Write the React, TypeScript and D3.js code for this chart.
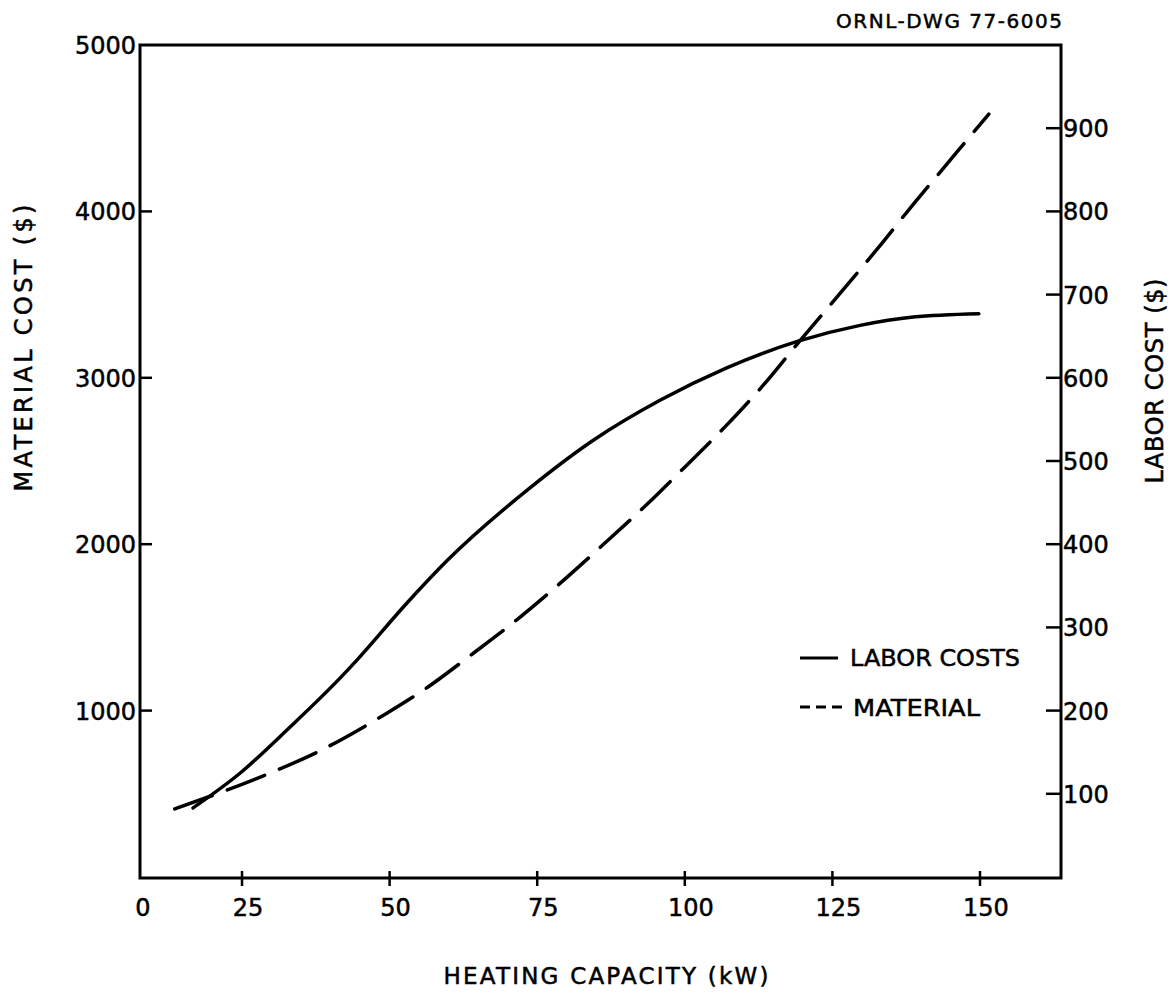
import React from "react";
import * as d3 from "d3";

const W = 1168;
const H = 1001;

// Heating capacity (kW) vs material cost ($, left axis)
const materialX = [13.6, 30.2, 37.9, 49.6, 56.5, 64, 71.7, 79.2, 86.1, 93.6, 99.9, 106.8, 113.4, 119.2, 125.4, 132.5, 139, 145.4, 151.5];
const materialY = [409, 631, 753, 986, 1142, 1340, 1550, 1775, 1995, 2240, 2460, 2705, 2960, 3210, 3470, 3770, 4056, 4327, 4585];

// Heating capacity (kW) vs labor cost ($, right axis)
const laborX = [16.7, 24.7, 33.1, 41.6, 44.5, 52.9, 59.7, 73.3, 84.5, 95.8, 107.1, 119.2, 129.7, 138.7, 149.8];
const laborY = [83, 125, 180, 239, 261, 329, 380, 465, 525, 573, 612, 644, 663, 673, 677];

const xTicks = [0, 25, 50, 75, 100, 125, 150];
const leftTicks = [1000, 2000, 3000, 4000, 5000];
const rightTicks = [100, 200, 300, 400, 500, 600, 700, 800, 900];

const FONT = "'DejaVu Sans', sans-serif";

export default function App() {
  const left = 140, right = 1061, top = 45, bottom = 878;
  const x = d3.scaleLinear().domain([7.72, 163.72]).range([left, right]);
  const yL = d3.scaleLinear().domain([0, 5000]).range([877, top]);
  const yR = d3.scaleLinear().domain([0, 1000]).range([877, top]);

  const matLine = d3
    .line<number>()
    .x((_, i) => x(materialX[i]))
    .y((d) => yL(d))
    .curve(d3.curveMonotoneX);
  const labLine = d3
    .line<number>()
    .x((_, i) => x(laborX[i]))
    .y((d) => yR(d))
    .curve(d3.curveMonotoneX);

  const xPos = (t: number) => (t === 0 ? left + 3 : x(t) + 6);
  const txt = { fill: "#000", stroke: "#000", strokeWidth: 0.5 };

  return (
    <svg
      width={W}
      height={H}
      style={{ position: "absolute", left: 0, top: 0, background: "#fff" }}
      fontFamily={FONT}
    >
      <rect x={0} y={0} width={W} height={H} fill="#fff" />
      {/* frame */}
      <rect x={left} y={top} width={right - left} height={bottom - top} fill="none" stroke="#000" strokeWidth={3} />

      {/* x ticks */}
      {xTicks.map((t) => (
        <g key={"x" + t}>
          {t !== 0 && <line x1={x(t)} x2={x(t)} y1={bottom - 7} y2={bottom + 8} stroke="#000" strokeWidth={2.5} />}
          <text x={xPos(t)} y={916} textAnchor="middle" fontSize={24} {...txt}>
            {t}
          </text>
        </g>
      ))}

      {/* left ticks */}
      {leftTicks.map((t) => (
        <g key={"l" + t}>
          {t !== 5000 && <line x1={left} x2={left + 12} y1={yL(t)} y2={yL(t)} stroke="#000" strokeWidth={2.5} />}
          <text x={left - 4} y={yL(t) + 9} textAnchor="end" fontSize={24} {...txt}>
            {t}
          </text>
        </g>
      ))}

      {/* right ticks */}
      {rightTicks.map((t) => (
        <g key={"r" + t}>
          <line x1={right - 15} x2={right} y1={yR(t)} y2={yR(t)} stroke="#000" strokeWidth={2.5} />
          <text x={right + 2} y={yR(t) + 9} textAnchor="start" fontSize={24} {...txt}>
            {t}
          </text>
        </g>
      ))}

      {/* curves */}
      <path d={labLine(laborY) || ""} fill="none" stroke="#000" strokeWidth={3.5} strokeLinecap="round" />
      <path
        d={matLine(materialY) || ""}
        fill="none"
        stroke="#000"
        strokeWidth={3.5}
        strokeDasharray="40 16"
        strokeLinecap="round"
      />

      {/* legend */}
      <line x1={800} x2={838} y1={658} y2={658} stroke="#000" strokeWidth={3} />
      <text x={850} y={666} fontSize={23} textLength={170} lengthAdjust="spacingAndGlyphs" {...txt}>
        LABOR COSTS
      </text>
      <line x1={800} x2={842} y1={707} y2={707} stroke="#000" strokeWidth={3} strokeDasharray="10 6" />
      <text x={853} y={716} fontSize={23} textLength={127} lengthAdjust="spacingAndGlyphs" {...txt}>
        MATERIAL
      </text>

      {/* axis titles */}
      <text x={606} y={984} textAnchor="middle" fontSize={23} textLength={325} lengthAdjust="spacing" {...txt}>
        HEATING CAPACITY (kW)
      </text>
      <text
        transform={`translate(32,348) rotate(-90)`}
        textAnchor="middle"
        fontSize={24}
        textLength={287}
        lengthAdjust="spacing"
        {...txt}
      >
        MATERIAL COST ($)
      </text>
      <text
        transform={`translate(1163,381) rotate(-90)`}
        textAnchor="middle"
        fontSize={24}
        textLength={205}
        lengthAdjust="spacing"
        {...txt}
      >
        LABOR COST ($)
      </text>

      {/* drawing number */}
      <text x={1062} y={28} textAnchor="end" fontSize={20} textLength={226} lengthAdjust="spacing" {...txt}>
        ORNL-DWG 77-6005
      </text>
    </svg>
  );
}
